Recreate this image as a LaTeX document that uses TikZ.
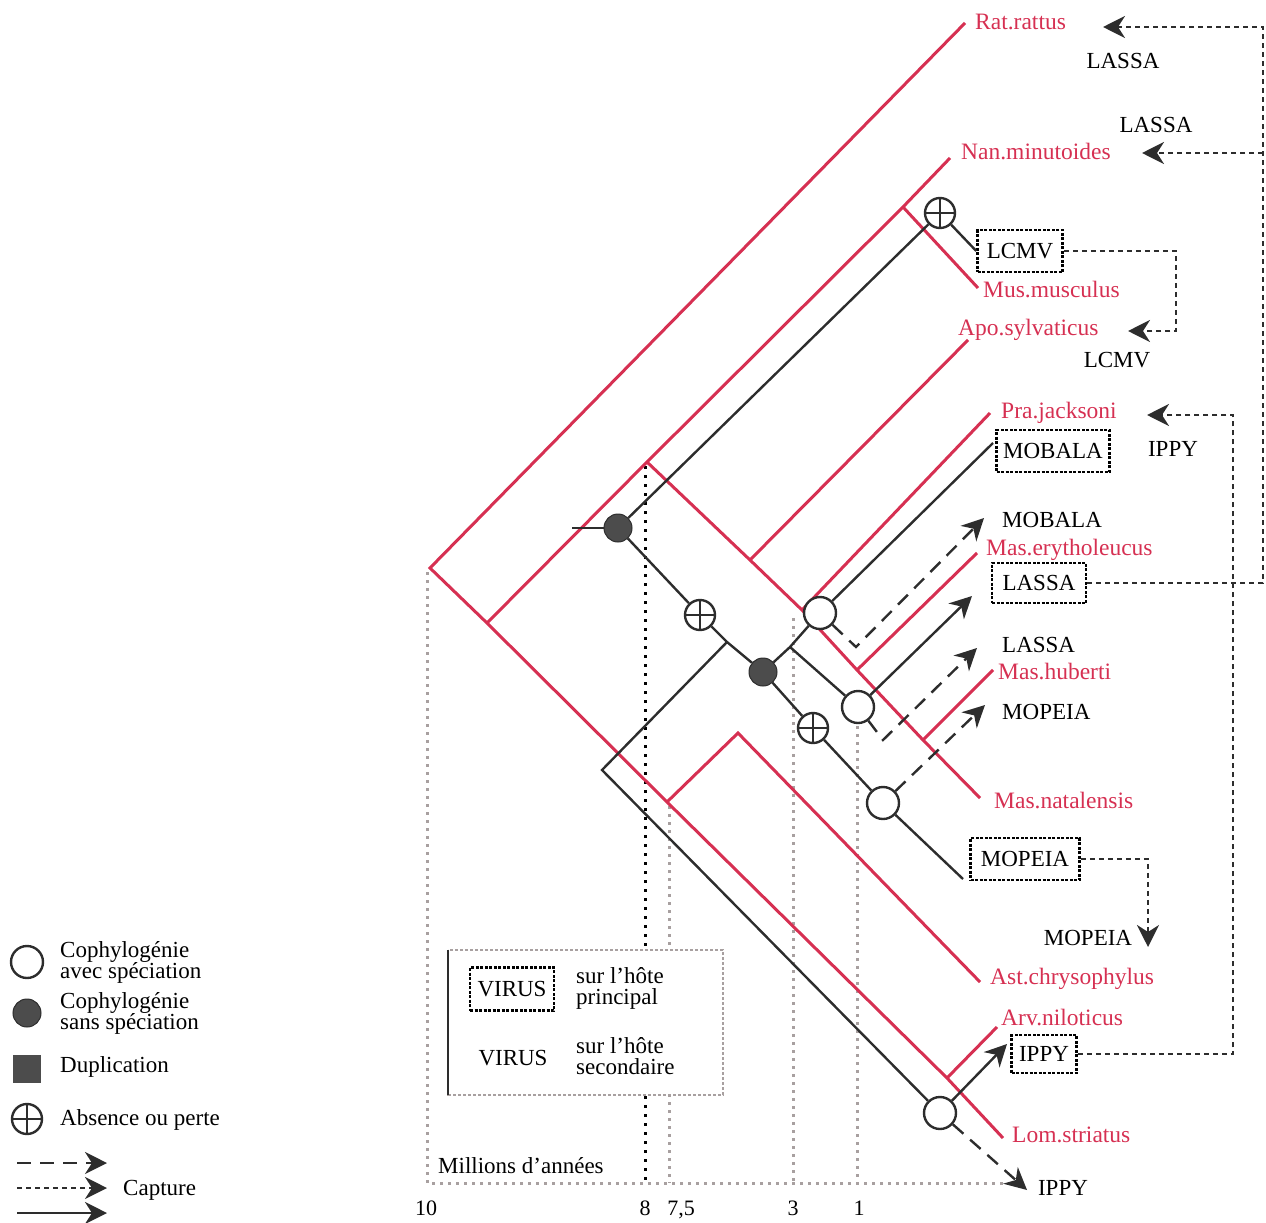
\documentclass[tikz,border=0pt]{standalone}
\usepackage{fontspec}
\setmainfont{Liberation Serif}
\usetikzlibrary{arrows.meta}
\definecolor{hostred}{RGB}{214,48,82}
\definecolor{vir}{RGB}{45,45,45}
\definecolor{axgray}{RGB}{168,160,160}
\begin{document}
\begin{tikzpicture}[x=1pt,y=-1pt,
  hostline/.style={draw=hostred,line width=3pt,line join=miter},
  vline/.style={draw=vir,line width=2.4pt},
  hl/.style={text=hostred,font=\fontsize{23.5}{23.5}\selectfont,anchor=west,inner sep=0pt,text height=15pt,text depth=0pt},
  vl/.style={text=black,font=\fontsize{23}{23}\selectfont,inner sep=0pt,text height=15pt,text depth=0pt},
  tl/.style={text=black,font=\fontsize{22}{22}\selectfont,inner sep=0pt,text height=15pt,text depth=0pt},
  legtext/.style={text=black,font=\fontsize{23}{21}\selectfont,inner sep=0pt,anchor=west,align=left},
  vbox/.style={draw=black,line width=2.5pt,dash pattern=on 3pt off 1.5pt,font=\fontsize{23}{23}\selectfont,text height=15pt,text depth=0pt,inner sep=0pt,fill=white},
  specnode/.style={circle,draw=vir,line width=2.4pt,minimum size=32pt,inner sep=0pt,fill=white},
  cospnode/.style={circle,fill=vir!85,draw=vir,line width=1pt,minimum size=28pt,inner sep=0pt},
  lossnode/.style={circle,draw=vir,line width=2.4pt,minimum size=30pt,inner sep=0pt,fill=white,
    path picture={\draw[vir,line width=2pt] (path picture bounding box.north)--(path picture bounding box.south) (path picture bounding box.west)--(path picture bounding box.east);}},
  captip/.style={-{Stealth[length=22pt,width=22pt,inset=7pt]}},
  longdash/.style={vline,dash pattern=on 14pt off 9pt,captip},
  shortdash/.style={draw=vir,line width=2.4pt,dash pattern=on 5pt off 4pt,captip},
  axisline/.style={draw=axgray,line width=3pt,dash pattern=on 3pt off 5pt},
  axisdark/.style={draw=black,line width=3pt,dash pattern=on 3pt off 6pt},
]
\useasboundingbox (0,0) rectangle (1266,1223);

% ---------- time axis ----------
\coordinate (A0) at (427,1183);
\coordinate (A1) at (1003,1183);
\coordinate (V10) at (427,572);
\coordinate (V8) at (645,466);
\coordinate (V8b) at (645,1183);
\coordinate (V75) at (669,806);
\coordinate (V75b) at (669,1183);
\coordinate (V3) at (793,618);
\coordinate (V3b) at (793,1183);
\coordinate (V1) at (857,726);
\coordinate (V1b) at (857,1183);
\draw[axisline] (V10) -- (A0) -- (A1);
\draw[axisdark] (V8) -- (V8b);
\draw[axisline] (V75) -- (V75b);
\draw[axisline] (V3) -- (V3b);
\draw[axisline] (V1) -- (V1b);
\node[tl] (t10) at (426,1208) {10};
\node[tl] (t8) at (645,1208) {8};
\node[tl] (t75) at (681,1208) {7,5};
\node[tl] (t3) at (793,1208) {3};
\node[tl] (t1) at (859,1208) {1};
\node[vl,anchor=west] (mil) at (438,1166) {Millions d'années};

% ---------- host tree (red) ----------
\coordinate (R0) at (430,568);
\coordinate (RatT) at (965,23);
\coordinate (R1) at (487,623);
\coordinate (R2) at (647,462);
\coordinate (RNM) at (903,207);
\coordinate (NanT) at (950,158);
\coordinate (MusT) at (978,288);
\coordinate (RA) at (750,560);
\coordinate (ApoT) at (968,340);
\coordinate (RP) at (802,610);
\coordinate (PraT) at (990,413);
\coordinate (RE) at (857,670);
\coordinate (EryT) at (977,553);
\coordinate (RH) at (923,740);
\coordinate (HubT) at (993,670);
\coordinate (NatT) at (980,798);
\coordinate (R3) at (667,802);
\coordinate (Rpk) at (738,733);
\coordinate (AstT) at (980,982);
\coordinate (RAL) at (947,1078);
\coordinate (ArvT) at (997,1027);
\coordinate (LomT) at (1003,1138);

\draw[hostline] (RatT) -- (R0) -- (R1) -- (R3) -- (RAL) -- (LomT);
\draw[hostline] (R1) -- (R2) -- (RNM) -- (NanT);
\draw[hostline] (RNM) -- (MusT);
\draw[hostline] (R2) -- (RA) -- (RP) -- (RE) -- (RH) -- (NatT);
\draw[hostline] (RA) -- (ApoT);
\draw[hostline] (RP) -- (PraT);
\draw[hostline] (RE) -- (EryT);
\draw[hostline] (RH) -- (HubT);
\draw[hostline] (R3) -- (Rpk) -- (AstT);
\draw[hostline] (RAL) -- (ArvT);

\node[hl] (lRat) at (975,22) {Rat.rattus};
\node[hl] (lNan) at (961,152) {Nan.minutoides};
\node[hl] (lMus) at (983,290) {Mus.musculus};
\node[hl] (lApo) at (958,328) {Apo.sylvaticus};
\node[hl] (lPra) at (1001,411) {Pra.jacksoni};
\node[hl] (lEry) at (986,548) {Mas.erytholeucus};
\node[hl] (lHub) at (998,672) {Mas.huberti};
\node[hl] (lNat) at (994,801) {Mas.natalensis};
\node[hl] (lAst) at (990,977) {Ast.chrysophylus};
\node[hl] (lArv) at (1001,1018) {Arv.niloticus};
\node[hl] (lLom) at (1012,1135) {Lom.striatus};

% ---------- virus tree (black) ----------
\coordinate (Vr) at (572,528);
\node[cospnode] (D1) at (618,528) {};
\node[lossnode] (P1) at (940,213) {};
\node[vbox,minimum width=85pt,minimum height=42pt] (bLCMV) at (1020,251) {LCMV};
\node[lossnode] (P2) at (700,615) {};
\coordinate (J1) at (727,642);
\node[cospnode] (D2) at (763,672) {};
\coordinate (J2) at (790,647);
\node[specnode] (C1) at (820,613) {};
\node[vbox,minimum width=113pt,minimum height=42pt] (bMOB) at (1053,451) {MOBALA};
\coordinate (K1) at (856,647);
\coordinate (T1) at (984,518);
\node[specnode] (C2) at (858,707) {};
\coordinate (T2) at (972,596);
\node[vbox,minimum width=94pt,minimum height=40pt] (bLAS) at (1039,583) {LASSA};
\coordinate (K2) at (883,740);
\coordinate (T3) at (977,648);
\node[lossnode] (P3) at (813,728) {};
\node[specnode] (C3) at (883,803) {};
\coordinate (T4) at (985,705);
\node[vbox,minimum width=109pt,minimum height=42pt] (bMOP) at (1025,859) {MOPEIA};
\coordinate (Emop) at (963,879);
\coordinate (Emob) at (993,443);
\coordinate (Vc) at (602,770);
\node[specnode] (C4) at (940,1113) {};
\node[vbox,minimum width=65pt,minimum height=38pt] (bIPPY) at (1044,1054) {IPPY};
\coordinate (T5) at (1007,1044);
\coordinate (T6) at (1027,1190);

\draw[vline] (Vr) -- (D1);
\draw[vline] (D1) -- (P1);
\draw[vline] (P1) -- (bLCMV.west);
\draw[vline] (D1) -- (P2) -- (J1) -- (D2) -- (P3) -- (C3);
\draw[vline] (J1) -- (Vc) -- (C4);
\draw[vline] (D2) -- (J2) -- (C1);
\draw[vline] (J2) -- (C2);
\draw[vline] (C1) -- (Emob);
\draw[longdash] (C1) -- (K1) -- (T1);
\draw[vline,captip] (C2) -- (T2);
\draw[longdash] (C2) -- (K2) -- (T3);
\draw[longdash] (C3) -- (T4);
\draw[vline] (C3) -- (Emop);
\draw[vline,captip] (C4) -- (T5);
\draw[longdash] (C4) -- (T6);

% ---------- captures (short dashes) ----------
\coordinate (X1) at (1263,583);
\coordinate (X2) at (1263,27);
\coordinate (X3) at (1263,153);
\coordinate (tRat) at (1103,27);
\coordinate (tNan) at (1142,153);
\draw[shortdash] (bLAS.east) -- (X1) -- (X2) -- (tRat);
\draw[shortdash] (X3) -- (tNan);
\coordinate (Y1) at (1176,251);
\coordinate (Y2) at (1176,331);
\coordinate (tApo) at (1128,331);
\draw[shortdash] (bLCMV.east) -- (Y1) -- (Y2) -- (tApo);
\coordinate (Z1) at (1233,1054);
\coordinate (Z2) at (1233,415);
\coordinate (tPra) at (1147,415);
\draw[shortdash] (bIPPY.east) -- (Z1) -- (Z2) -- (tPra);
\coordinate (W1) at (1148,859);
\coordinate (tMop) at (1148,947);
\draw[shortdash] (bMOP.east) -- (W1) -- (tMop);

% ---------- secondary-host virus labels ----------
\node[vl] (sL1) at (1123,61) {LASSA};
\node[vl] (sL2) at (1156,125) {LASSA};
\node[vl] (sLC) at (1117,360) {LCMV};
\node[vl] (sIP1) at (1173,449) {IPPY};
\node[vl,anchor=west] (sMOB) at (1002,520) {MOBALA};
\node[vl,anchor=west] (sLAS) at (1002,645) {LASSA};
\node[vl,anchor=west] (sMOP) at (1002,712) {MOPEIA};
\node[vl] (sMOP2) at (1088,938) {MOPEIA};
\node[vl] (sIP2) at (1063,1188) {IPPY};

% ---------- virus legend box ----------
\coordinate (LB1) at (448,950);
\coordinate (LB2) at (723,1095);
\coordinate (LB3) at (448,1095);
\draw[draw=axgray,fill=white,line width=2.5pt,dash pattern=on 3pt off 2pt] (LB1) rectangle (LB2);
\draw[vir,line width=2.5pt] (LB1) -- (LB3);
\node[vbox,minimum width=84pt,minimum height=43pt] (lgV1) at (512,989) {VIRUS};
\node[legtext] (lgT1) at (576,988) {sur l'hôte\\principal};
\node[vl] (lgV2) at (513,1058) {VIRUS};
\node[legtext] (lgT2) at (576,1056) {sur l'hôte\\secondaire};

% ---------- symbol legend ----------
\node[specnode] (lg1) at (27,962) {};
\node[legtext] (lg1t) at (60,962) {Cophylogénie\\avec spéciation};
\node[cospnode] (lg2) at (27,1013) {};
\node[legtext] (lg2t) at (60,1013) {Cophylogénie\\sans spéciation};
\node[fill=vir!85,minimum size=28pt,inner sep=0pt] (lg3) at (27,1069) {};
\node[legtext] (lg3t) at (60,1067) {Duplication};
\node[lossnode] (lg4) at (27,1119) {};
\node[legtext] (lg4t) at (60,1120) {Absence ou perte};
\coordinate (la1) at (17,1163);
\coordinate (la1e) at (107,1163);
\coordinate (la2) at (17,1188);
\coordinate (la2e) at (107,1188);
\coordinate (la3) at (17,1213);
\coordinate (la3e) at (107,1213);
\draw[longdash] (la1) -- (la1e);
\draw[shortdash] (la2) -- (la2e);
\draw[vline,captip] (la3) -- (la3e);
\node[legtext] (capt) at (123,1190) {Capture};
\end{tikzpicture}
\end{document}
